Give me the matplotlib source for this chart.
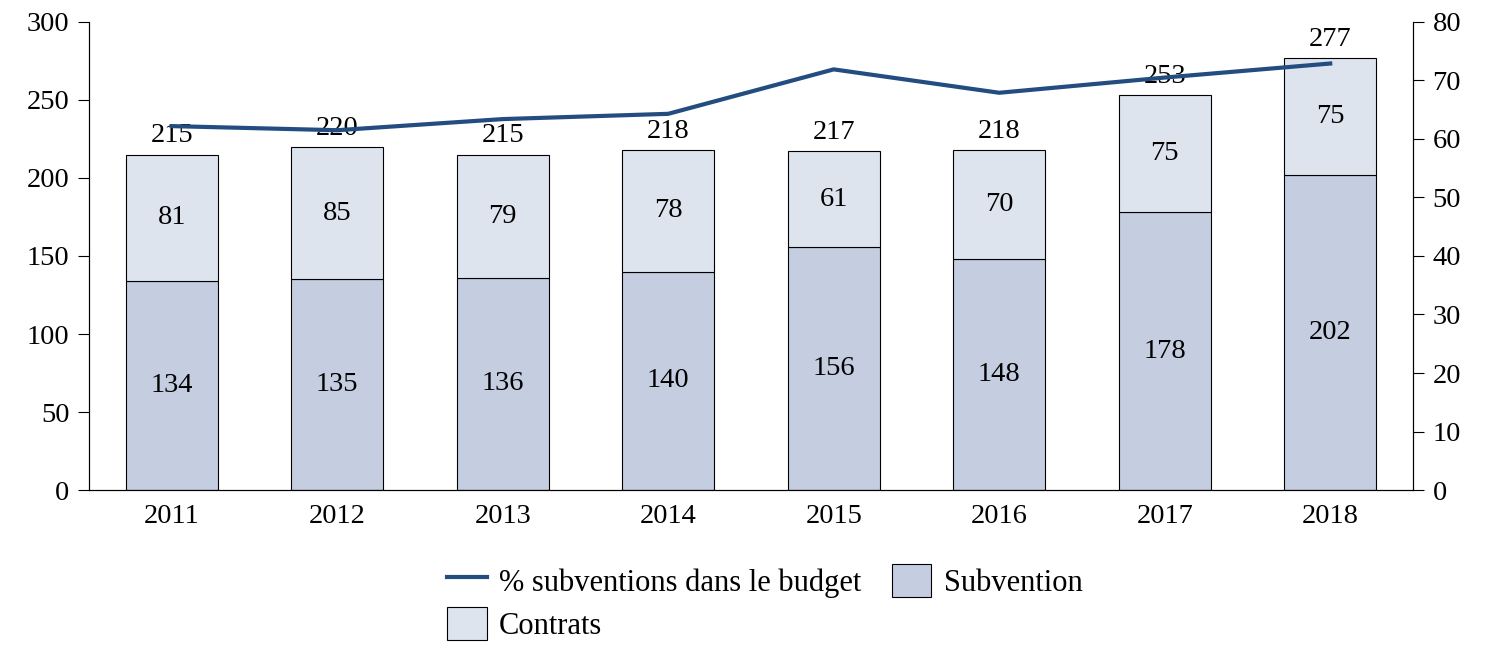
import matplotlib.pyplot as plt
import numpy as np

plt.rcParams['font.family'] = ['Liberation Serif', 'DejaVu Serif']

# données
annees = ['2011', '2012', '2013', '2014', '2015', '2016', '2017', '2018']
subvention = [134, 135, 136, 140, 156, 148, 178, 202]
contrats = [81, 85, 79, 78, 61, 70, 75, 75]
totaux = [215, 220, 215, 218, 217, 218, 253, 277]
pct_subv = [62.2, 61.5, 63.4, 64.3, 71.9, 67.9, 70.5, 72.9]

c_subv = '#c4cee0'
c_contr = '#dee4ee'
c_ligne = '#234d80'
fs = 20.5

fig = plt.figure(figsize=(14.85, 6.58), dpi=100)
ax = fig.add_axes([0.0599, 0.2553, 0.8916, 0.7113])
ax2 = ax.twinx()

x = np.arange(len(annees))
w = 0.556
b1 = ax.bar(x, subvention, w, color=c_subv, edgecolor='black', linewidth=0.8,
            label='Subvention', zorder=2)
b2 = ax.bar(x, contrats, w, bottom=subvention, color=c_contr, edgecolor='black',
            linewidth=0.8, label='Contrats', zorder=2)

for i in range(len(annees)):
    ax.text(x[i], subvention[i] / 2, str(subvention[i]), ha='center', va='center',
            fontsize=fs, zorder=3)
    ax.text(x[i], subvention[i] + contrats[i] / 2, str(contrats[i]), ha='center',
            va='center', fontsize=fs, zorder=3)
    ax.text(x[i], totaux[i] + 4, str(totaux[i]), ha='center', va='bottom',
            fontsize=fs, zorder=3)

ligne, = ax2.plot(x, pct_subv, color=c_ligne, linewidth=3,
                  label='% subventions dans le budget', zorder=4)

ax.set_xlim(-0.5, 7.5)
ax.set_ylim(0, 300)
ax.set_yticks(range(0, 301, 50))
ax2.set_ylim(0, 80)
ax2.set_yticks(range(0, 81, 10))
ax.set_xticks(x)
ax.set_xticklabels(annees)

for a in (ax, ax2):
    a.spines['top'].set_visible(False)
    a.tick_params(labelsize=fs, length=8, width=0.8, direction='out')
ax.tick_params(axis='x', length=0, pad=10)
ax.tick_params(axis='y', pad=6)
ax2.tick_params(axis='y', pad=6)

ax.set_zorder(ax2.get_zorder() - 1)
ax2.patch.set_visible(False)
ax.patch.set_visible(False)

fig.legend([ligne, b2, b1], ['% subventions dans le budget', 'Contrats', 'Subvention'],
           ncol=2, loc='upper left', bbox_to_anchor=(0.301, 0.143), frameon=False,
           fontsize=22, handlelength=1.3, handleheight=1.3, columnspacing=1.0,
           handletextpad=0.4, labelspacing=0.3, borderaxespad=0, borderpad=0)

fig.savefig('out.png', dpi=100)
